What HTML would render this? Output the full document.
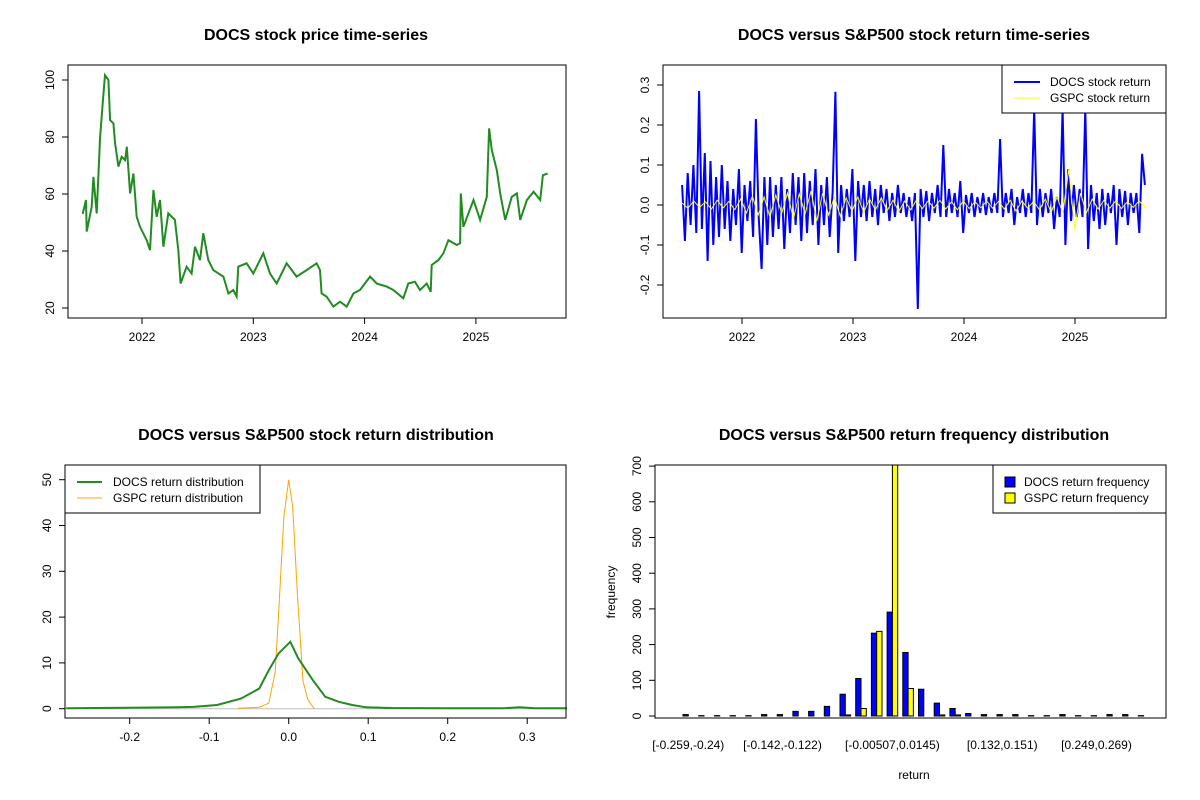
<!DOCTYPE html>
<html><head><meta charset="utf-8"><title>DOCS charts</title>
<style>
html,body{margin:0;padding:0;background:#fff;}
svg{display:block;font-family:"Liberation Sans",Arial,sans-serif;}
.t{font-weight:bold;font-size:16px;text-anchor:middle;}
.tk{font-size:12px;}
</style></head>
<body>
<svg id="c" width="1200" height="800" viewBox="0 0 1200 800">
<rect width="1200" height="800" fill="#fff"/>
<text class="t" x="316" y="40">DOCS stock price time-series</text>
<text class="t" x="914" y="40">DOCS versus S&amp;P500 stock return time-series</text>
<text class="t" x="316" y="440">DOCS versus S&amp;P500 stock return distribution</text>
<text class="t" x="914" y="440">DOCS versus S&amp;P500 return frequency distribution</text>
<g id="g1"></g>
<g id="g2"></g>
<g id="g3"></g>
<g id="g4"></g>
</svg>
<script>
// ---- panel 1 data ----
const priceDates=[2021.467,2021.497,2021.503,2021.548,2021.563,2021.593,2021.617,2021.623,2021.647,2021.668,2021.698,2021.713,2021.743,2021.758,2021.788,2021.818,2021.848,2021.863,2021.893,2021.923,2021.952,2021.982,2022.042,2022.072,2022.102,2022.132,2022.162,2022.192,2022.236,2022.296,2022.326,2022.347,2022.401,2022.446,2022.476,2022.521,2022.551,2022.596,2022.641,2022.731,2022.776,2022.820,2022.850,2022.865,2022.940,2023.000,2023.090,2023.150,2023.210,2023.299,2023.389,2023.479,2023.569,2023.599,2023.614,2023.659,2023.719,2023.779,2023.839,2023.899,2023.959,2024.049,2024.109,2024.199,2024.258,2024.348,2024.393,2024.453,2024.498,2024.558,2024.594,2024.603,2024.663,2024.708,2024.753,2024.828,2024.858,2024.864,2024.888,2024.978,2025.038,2025.098,2025.119,2025.143,2025.188,2025.218,2025.263,2025.323,2025.368,2025.398,2025.458,2025.518,2025.578,2025.602,2025.644];
const priceValues=[53,57.9,46.8,55.5,66,53.2,74.3,79.5,91.8,101.7,100,85.9,84.8,77.8,69.6,73.1,71.9,76.6,60.2,67.2,52,48.5,43.8,40.3,61.4,52,57.9,41.5,53.2,50.9,40.3,28.6,34.5,32.1,41.5,36.8,46.2,36.8,33.3,31,25.1,26.3,24,34.5,35.7,32.1,39.2,32.1,28.6,35.7,31,33.3,35.7,33.3,25.1,24,20.5,22.2,20.5,25.1,26.3,31,28.6,27.5,26.3,23.4,28.6,29.2,26.3,28.6,25.7,35.1,36.8,39.2,43.8,42.1,42.7,60.2,48.5,57.9,50.9,59,83,75.4,68.4,60.2,50.9,59,60.2,50.9,57.9,60.8,57.9,66.6,67.2];
const priceTicks=[20,40,60,80,100];
const yearTicks=[2022,2023,2024,2025];
// ---- panel 2 data ----
const retStart=2021.46, retEnd=2025.63;
const docsReturns=[0.05,-0.09,0.08,-0.05,0.1,-0.07,0.285,-0.06,0.13,-0.14,0.11,-0.1,0.07,-0.08,0.1,-0.06,0.06,-0.09,0.04,-0.05,0.09,-0.12,0.05,-0.04,0.06,-0.08,0.215,-0.03,
-0.16,0.07,-0.1,0.07,-0.08,0.05,-0.06,0.07,-0.11,0.04,-0.07,0.08,-0.05,0.07,-0.09,0.08,-0.07,0.06,-0.05,0.09,-0.1,0.05,-0.05,0.07,-0.08,0.03,0.283,-0.12,
0.05,-0.04,0.04,-0.03,0.09,-0.14,0.06,-0.03,0.05,-0.04,0.06,-0.03,0.04,-0.05,0.05,-0.02,0.04,-0.04,0.03,-0.03,0.05,-0.02,0.03,-0.03,0.02,-0.04,0.03,-0.26,
0.04,-0.03,0.035,-0.04,0.03,-0.02,0.05,-0.03,0.15,-0.03,0.04,-0.02,0.03,-0.03,0.06,-0.07,0.025,-0.02,0.03,-0.03,0.02,-0.02,0.03,-0.025,0.02,-0.02,0.03,-0.02,
0.165,-0.03,0.03,-0.02,0.04,-0.05,0.02,-0.02,0.04,-0.03,0.03,-0.02,0.24,-0.05,0.04,-0.03,0.03,-0.02,0.04,-0.06,0.02,-0.03,0.24,-0.1,0.09,-0.04,0.05,-0.03,
0.04,-0.03,0.24,-0.11,0.05,-0.04,0.03,-0.06,0.04,-0.05,0.03,-0.02,0.05,-0.1,0.04,-0.03,0.035,-0.05,0.03,-0.02,0.03,-0.07,0.128,0.05];
const gspcReturns=[0.005,-0.008,0.01,-0.006,0.008,-0.01,0.012,-0.007,0.009,-0.012,0.015,-0.02,0.022,-0.025,0.02,-0.03,0.025,-0.02,0.03,-0.035,0.028,-0.022,0.035,-0.04,0.03,-0.025,0.02,-0.028,0.018,-0.015,0.02,-0.018,0.015,-0.012,0.018,-0.014,0.012,-0.016,0.01,-0.012,0.012,-0.009,0.01,-0.008,0.012,-0.01,0.008,-0.012,0.01,-0.009,0.008,-0.007,0.01,-0.008,0.009,-0.01,0.012,-0.015,0.01,-0.008,0.009,-0.012,0.015,-0.018,0.02,-0.02,0.09,-0.06,0.03,-0.02,0.015,-0.01,0.012,-0.008,0.01,-0.009,0.008,-0.006,0.01,-0.005];
const returnTicks=[-0.2,-0.1,0.0,0.1,0.2,0.3];
// ---- panel 3 data ----
const docsDensX=[-0.28,-0.14,-0.12,-0.09,-0.06,-0.037,-0.025,-0.013,0.002,0.012,0.03,0.046,0.063,0.08,0.097,0.13,0.2,0.27,0.29,0.31,0.35];
const docsDensY=[0.1,0.3,0.4,0.8,2.2,4.4,8.4,12,14.6,11,6.3,2.6,1.5,0.8,0.3,0.15,0.1,0.1,0.3,0.1,0.1];
const gspcDensX=[-0.064,-0.037,-0.025,-0.017,-0.013,-0.006,0,0.005,0.011,0.018,0.024,0.032];
const gspcDensY=[0.1,0.3,1.2,8,20,42,50,44,25,6,2,0];
const densXTicks=[-0.2,-0.1,0.0,0.1,0.2,0.3];
const densYTicks=[0,10,20,30,40,50];
// ---- panel 4 data ----
const docsFreq=[4,1,1,1,1,4,4,13,13,27,61,105,232,291,178,75,36,21,7,4,4,4,1,1,4,1,1,4,4,1];
const gspcFreq=[0,0,0,0,0,0,0,0,0,0,3,21,237,750,77,0,3,3,0,0,0,0,0,0,0,0,0,0,0,0];
const binLabels={0:"[-0.259,-0.24)",6:"[-0.142,-0.122)",13:"[-0.00507,0.0145)",20:"[0.132,0.151)",26:"[0.249,0.269)"};
const freqTicks=[0,100,200,300,400,500,600,700];

const NS="http://www.w3.org/2000/svg";
function mk(parent,tag,attrs,text){const e=document.createElementNS(NS,tag);for(const k in attrs)e.setAttribute(k,attrs[k]);if(text!==undefined)e.textContent=text;parent.appendChild(e);return e;}
function box(g,x0,y0,x1,y1){const r=mk(g,'rect',{x:x0,y:y0,width:x1-x0,height:y1-y0,fill:'none',stroke:'#000','stroke-width':1});

}
function yAxis(g,ticks,sy,x0,fmt){ticks.forEach(v=>{const y=sy(v);
const l=mk(g,'line',{x1:x0-6,x2:x0,y1:y,y2:y,stroke:'#000'});


const t=mk(g,'text',{class:'tk','text-anchor':'middle',transform:`translate(${x0-14},${y}) rotate(-90)`},fmt(v));

});}
function xAxis(g,ticks,sx,y0,fmt){ticks.forEach(v=>{const x=sx(v);
const l=mk(g,'line',{x1:x,x2:x,y1:y0,y2:y0+6,stroke:'#000'});


const t=mk(g,'text',{class:'tk','text-anchor':'middle',x:x,y:y0+23},fmt(v));

});}
function poly(g,xs,ys,color,w,name){const p=mk(g,'polyline',{points:xs.map((x,i)=>x.toFixed(1)+','+ys[i].toFixed(1)).join(' '),fill:'none',stroke:color,'stroke-width':w,'stroke-linejoin':'miter'});

return p;}

// Panel 1
(function(){const g=document.getElementById('g1');
const sx=t=>142+(t-2022)*111.3, sy=v=>308-(v-20)*2.85;
poly(g,priceDates.map(sx),priceValues.map(sy),'#228B22',2,'price-line');
box(g,68,65,566,318);
yAxis(g,priceTicks,sy,68,v=>String(v));
xAxis(g,yearTicks,sx,318,v=>String(v));})();

// Panel 2
(function(){const g=document.getElementById('g2');
const sx=t=>742+(t-2022)*111, sy=v=>205-v*400;
const xd=docsReturns.map((v,i)=>sx(retStart+(retEnd-retStart)*i/(docsReturns.length-1)));
poly(g,xd,docsReturns.map(sy),'#0000FF',2,'docs-return-line');
const xg=gspcReturns.map((v,i)=>sx(retStart+(retEnd-retStart)*i/(gspcReturns.length-1)));
poly(g,xg,gspcReturns.map(sy),'#FFFF00',1,'gspc-return-line');
box(g,663,65,1166,318);
yAxis(g,returnTicks,sy,663,v=>v.toFixed(1));
xAxis(g,yearTicks,sx,318,v=>String(v));
const lg=mk(g,'g',{});


mk(lg,'rect',{x:1002,y:65,width:164,height:48,fill:'#fff',stroke:'#000'});
mk(lg,'line',{x1:1014,x2:1040,y1:82,y2:82,stroke:'#0000FF','stroke-width':2});
mk(lg,'line',{x1:1014,x2:1040,y1:98,y2:98,stroke:'#FFFF00','stroke-width':1});
mk(lg,'text',{class:'tk',x:1050,y:86},'DOCS stock return');
mk(lg,'text',{class:'tk',x:1050,y:102},'GSPC stock return');})();

// Panel 3
(function(){const g=document.getElementById('g3');
const sx=v=>288.7+v*795, sy=v=>708.7-v*4.58;
const zl=mk(g,'line',{x1:68,x2:566,y1:sy(0),y2:sy(0),stroke:'#bebebe'});


poly(g,gspcDensX.map(sx),gspcDensY.map(sy),'#FFA500',1,'gspc-density-line');
poly(g,docsDensX.map(sx),docsDensY.map(sy),'#228B22',2,'docs-density-line');
box(g,65,465,566,718);
yAxis(g,densYTicks,sy,65,v=>String(v));
xAxis(g,densXTicks,sx,718,v=>v.toFixed(1));
const lg=mk(g,'g',{});


mk(lg,'rect',{x:65,y:465,width:195,height:48,fill:'#fff',stroke:'#000'});
mk(lg,'line',{x1:77,x2:102,y1:482,y2:482,stroke:'#228B22','stroke-width':2});
mk(lg,'line',{x1:77,x2:102,y1:498,y2:498,stroke:'#FFA500','stroke-width':1});
mk(lg,'text',{class:'tk',x:113,y:486},'DOCS return distribution');
mk(lg,'text',{class:'tk',x:113,y:502},'GSPC return distribution');})();

// Panel 4
(function(){const g=document.getElementById('g4');
const sy=v=>716-Math.min(v,705)*0.357, gx=i=>683+i*15.7, bw=5.3;
const clip=mk(g,'clipPath',{id:'cp4'});mk(clip,'rect',{x:655,y:465,width:511,height:253});
const bars=mk(g,'g',{'clip-path':'url(#cp4)'});
docsFreq.forEach((v,i)=>{const r=mk(bars,'rect',{x:gx(i),y:sy(v),width:bw,height:716-sy(v),fill:'#0000FF',stroke:'#000','stroke-width':1});

});
gspcFreq.forEach((v,i)=>{const r=mk(bars,'rect',{x:gx(i)+bw,y:sy(v),width:bw,height:716-sy(v),fill:'#FFFF00',stroke:'#000','stroke-width':1});

});
box(g,655,465,1166,718);
yAxis(g,freqTicks,v=>716-v*0.357,655,v=>String(v));
Object.keys(binLabels).forEach(k=>{const t=mk(g,'text',{class:'tk','text-anchor':'middle',x:gx(+k)+bw,y:749},binLabels[k]);

});
const xl=mk(g,'text',{class:'tk','text-anchor':'middle',x:914,y:779},'return');


const yl=mk(g,'text',{class:'tk','text-anchor':'middle',transform:'translate(615,592) rotate(-90)'},'frequency');


const lg=mk(g,'g',{});


mk(lg,'rect',{x:993,y:465,width:173,height:48,fill:'#fff',stroke:'#000'});
mk(lg,'rect',{x:1005,y:477,width:10,height:10,fill:'#0000FF',stroke:'#000'});
mk(lg,'rect',{x:1005,y:493,width:10,height:10,fill:'#FFFF00',stroke:'#000'});
mk(lg,'text',{class:'tk',x:1024,y:486},'DOCS return frequency');
mk(lg,'text',{class:'tk',x:1024,y:502},'GSPC return frequency');})();
</script>
</body></html>
